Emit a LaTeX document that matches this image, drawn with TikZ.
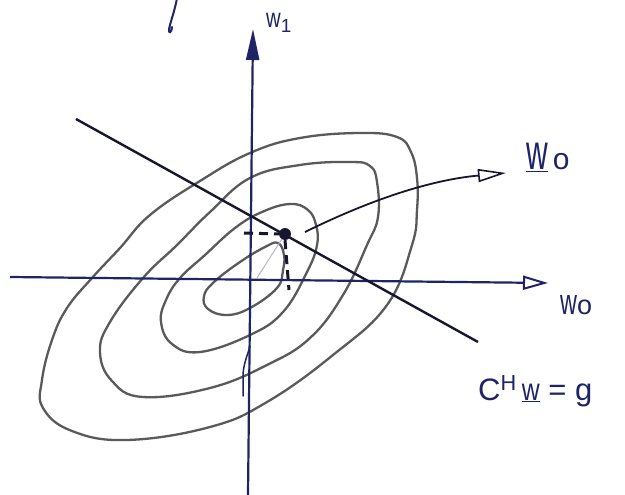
\documentclass[tikz,border=0pt]{standalone}
\usepackage{fontspec}
\setmainfont{Liberation Sans}
\usetikzlibrary{arrows.meta}
\definecolor{ink}{HTML}{1F2466}
\definecolor{pen}{HTML}{16162E}
\definecolor{pencil}{HTML}{5A5A5A}
\definecolor{faint}{HTML}{B8B8C8}
\newcommand{\narrowtxt}[2]{\scalebox{#1}[1]{#2}}
\begin{document}
\begin{tikzpicture}[x=1pt,y=-1pt,
  axisline/.style={ink, line width=2.2pt},
  contour/.style={pencil, line width=2.3pt, line join=round},
  constraint/.style={pen, line width=2.4pt},
  guide/.style={pen, line width=3pt, dash pattern=on 9pt off 6pt},
  lbl/.style={ink, inner sep=0pt},
  stroke/.style={ink, line width=1.3pt, line cap=round}]
\useasboundingbox (0,0) rectangle (625,495);
\fill[white] (0,0) rectangle (625,495);

% contours
\draw[contour] plot[smooth cycle, tension=0.7] coordinates {
  (300,138) (360,133) (397,137) (411,152) (417,178) (417,210) (412,245)
  (387,305) (333,355) (267,402) (210,427) (127,440) (72,431)
  (43,408) (42,380) (52,340) (67,308) (92,278) (120,248) (150,215) (200,181) (250,153)};
\draw[contour] plot[smooth cycle, tension=0.7] coordinates {
  (300,165) (350,162) (370,166) (377,182) (378,217) (367,245) (343,295)
  (310,338) (267,365) (210,388) (143,397) (112,381) (100,352)
  (110,322) (143,278) (177,245) (210,212) (250,178)};
\draw[contour] plot[smooth cycle, tension=0.7] coordinates {
  (290,204) (308,210) (316,225) (317,245) (307,272) (283,312) (250,335)
  (200,352) (172,344) (161,322) (166,300) (180,278) (205,255) (235,228) (262,212)};
\draw[contour] plot[smooth cycle, tension=0.7] coordinates {
  (278,243) (284,255) (283,270) (277,288) (250,308) (227,315) (208,309)
  (204,296) (214,282) (240,262) (265,247)};

% axes
\coordinate (hl) at (10,277);
\coordinate (hr) at (548,283);
\coordinate (vb) at (248,495);
\coordinate (vt) at (253,29);
\draw[axisline, -{Triangle[open, length=25pt, width=14pt, line width=2pt]}] (hl) -- (hr);
\draw[axisline, -{Triangle[fill=ink, length=31pt, width=13pt]}] (vb) -- (vt);
\draw[stroke, line width=1.5pt] (243,396) -- (243,374) .. controls (244,362) and (248,354) .. (250,346);

% constraint line
\coordinate (c1) at (76,119);
\coordinate (c2) at (478,342);
\draw[constraint] (c1) -- (c2);

% optimum
\node[circle, fill=pen, minimum size=12pt, inner sep=0pt] (wopt) at (285,234) {};
\coordinate (hx) at (244,233);
\coordinate (vy) at (289,290);
\coordinate (org) at (257,278);
\draw[faint, line width=1pt] (org) -- (wopt);
\draw[guide] (hx) -- (wopt.west);
\draw[guide] (wopt.south) -- (vy);

% arrow to label
\coordinate (as) at (305,232);
\coordinate (ae) at (506,173);
\draw[pen, line width=1.8pt, -{Triangle[open, length=28pt, width=13pt, line width=1.6pt]}]
  (as) .. controls (370,200) and (430,180) .. (ae);

% top-left fragment
\draw[stroke, line width=2pt] (177,-2) .. controls (175,10) and (171,20) .. (169,29)
  .. controls (168,34) and (172,33) .. (172,27);

% labels
\node[lbl, anchor=base west] (lw1) at (266,28) {\fontsize{27}{27}\selectfont\narrowtxt{0.75}{w}\textsubscript{1}};
\node[lbl, anchor=base west] (lwopt) at (526,170) {\fontsize{50}{50}\selectfont\underline{\narrowtxt{0.6}{w}}\fontsize{30}{30}\selectfont\,o};
\node[lbl, anchor=base west] (lw0) at (560,314) {\fontsize{36}{36}\selectfont\narrowtxt{0.65}{w}\fontsize{27}{27}\selectfont o};
\node[lbl, anchor=base west] (lcon) at (478,400) {\fontsize{31}{31}\selectfont C\textsuperscript{H}\,\underline{\narrowtxt{0.8}{w}}\;=\;g};
\end{tikzpicture}
\end{document}
